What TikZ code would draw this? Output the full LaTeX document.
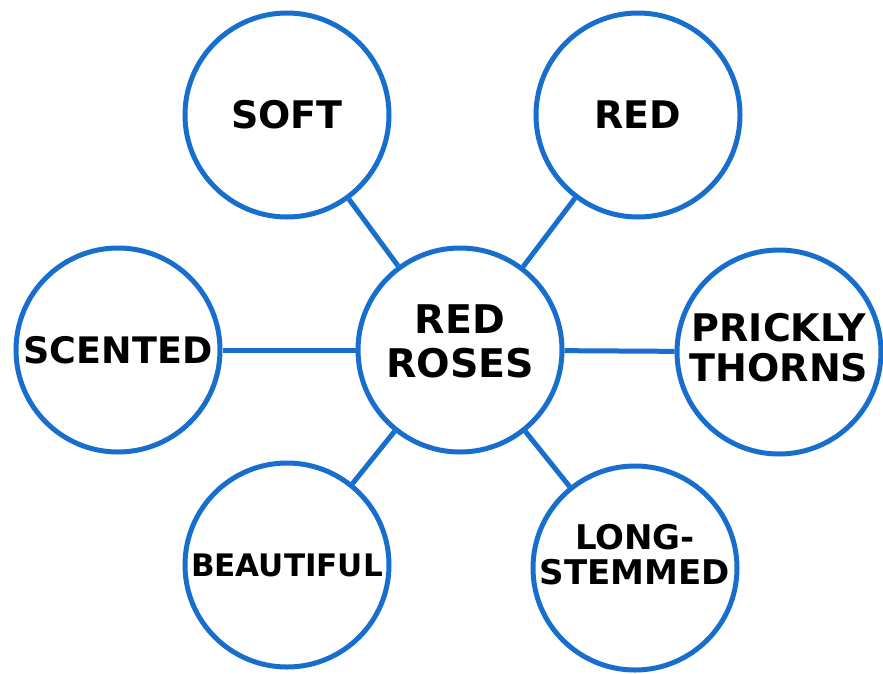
\documentclass[tikz,border=0pt]{standalone}
\usepackage{fontspec}
\setmainfont{DejaVu Sans}
\usetikzlibrary{positioning}
\definecolor{BubbleBlue}{RGB}{24,110,204}

\begin{document}
\begin{tikzpicture}[x=1pt, y=-1pt,
    bubble/.style={circle, draw=BubbleBlue, line width=5pt, minimum size=204pt, inner sep=0pt, text=black},
    spoke/.style={draw=BubbleBlue, line width=5pt},
]
\useasboundingbox (0,0) rectangle (883,673);

% hub
\node[bubble, font=\bfseries\fontsize{39.5}{44}\selectfont, text height=74pt, text depth=20pt] (roses) at (460,350)
    {\begin{tabular}[b]{@{}c@{}}RED\\ROSES\end{tabular}};

% outer bubbles
\node[bubble, font=\bfseries\fontsize{38}{44}\selectfont] (soft) at (287,115) {SOFT};
\node[bubble, font=\bfseries\fontsize{38}{44}\selectfont] (red) at (638,115) {RED};
\node[bubble, font=\bfseries\fontsize{36.5}{40}\selectfont] (scented) at (118,350) {SCENTED};
\node[bubble, font=\bfseries\fontsize{38}{39}\selectfont, text height=62pt, text depth=4pt] (prickly) at (779,352)
    {\begin{tabular}[b]{@{}c@{}}PRICKLY\\THORNS\end{tabular}};
\node[bubble, font=\bfseries\fontsize{31}{36}\selectfont] (beautiful) at (287,565) {BEAUTIFUL};
\node[bubble, font=\bfseries\fontsize{34}{33}\selectfont, text height=45pt, text depth=12pt] (stemmed) at (635,568)
    {\begin{tabular}[b]{@{}c@{}}LONG-\\STEMMED\end{tabular}};

% spokes
\foreach \n in {soft, red, scented, prickly, beautiful, stemmed}
    \draw[spoke] (roses) -- (\n);
\end{tikzpicture}
\end{document}
